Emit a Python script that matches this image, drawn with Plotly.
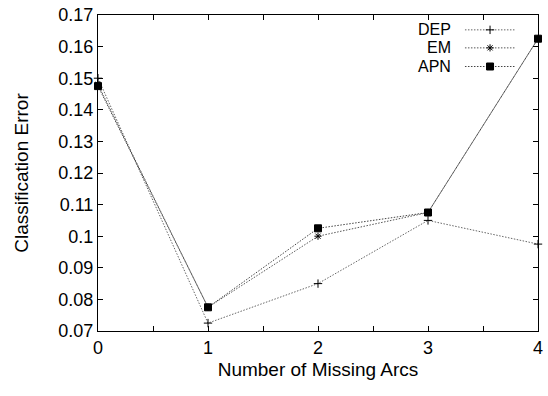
import plotly.graph_objects as go

# Classification error versus number of missing arcs
missing_arcs = [0, 1, 2, 3, 4]
dep = [0.150, 0.0725, 0.085, 0.105, 0.0975]
em = [0.148, 0.0775, 0.100, 0.1075, 0.1625]
apn = [0.1475, 0.0775, 0.1025, 0.1075, 0.1625]

series_names = ["DEP", "EM", "APN"]
series_values = [dep, em, apn]
series_symbols = ["cross-thin", "asterisk-open", "square"]
series_sizes = [6, 6, 7]
line_colors = ["#666666", "#555555", "#444444"]

y_ticks = [0.07, 0.08, 0.09, 0.1, 0.11, 0.12, 0.13, 0.14, 0.15, 0.16, 0.17]
y_tick_text = ["0.07", "0.08", "0.09", "0.1", "0.11", "0.12", "0.13",
               "0.14", "0.15", "0.16", "0.17"]

FONT = "Liberation Sans, Arial, Helvetica, sans-serif"
DOTS = "1.5px,1.5px"

fig = go.Figure()

for name, vals, sym, size, col in zip(series_names, series_values,
                                      series_symbols, series_sizes, line_colors):
    fig.add_trace(go.Scatter(
        x=missing_arcs, y=vals, mode="lines+markers", name=name,
        line=dict(color=col, width=1, dash=DOTS),
        marker=dict(symbol=sym, size=size, color="black",
                    line=dict(color="black", width=1)),
        showlegend=False, cliponaxis=False,
    ))

# Key in the upper right: label on the left, line sample on the right
key_rows = [0.953, 0.896, 0.837]
for name, sym, size, col, yk in zip(series_names, series_symbols,
                                    series_sizes, line_colors, key_rows):
    fig.add_trace(go.Scatter(
        x=[0.834, 0.948], y=[yk, yk], mode="lines", xaxis="x2", yaxis="y2",
        line=dict(color=col, width=1, dash=DOTS), showlegend=False,
        hoverinfo="skip",
    ))
    fig.add_trace(go.Scatter(
        x=[0.891], y=[yk], mode="markers", xaxis="x2", yaxis="y2",
        marker=dict(symbol=sym, size=size, color="black",
                    line=dict(color="black", width=1)),
        showlegend=False, hoverinfo="skip",
    ))
    fig.add_annotation(
        x=0.807, y=yk, xref="x2", yref="y2", text=name, showarrow=False,
        xanchor="right", yanchor="middle",
        font=dict(family=FONT, size=16, color="black"),
    )

axis_common = dict(
    showgrid=False, zeroline=False, showline=True, linecolor="black",
    linewidth=1, mirror="ticks", ticks="inside", ticklen=5,
    tickcolor="black", tickwidth=1, ticklabeloverflow="allow",
    tickfont=dict(family=FONT, size=18, color="black"),
)

fig.update_layout(
    width=548, height=396,
    margin=dict(l=98, r=5, t=9, b=65),
    paper_bgcolor="white", plot_bgcolor="white",
    xaxis=dict(
        range=[0, 4], tickvals=missing_arcs,
        title=dict(text="Number of Missing Arcs", standoff=6,
                   font=dict(family=FONT, size=19, color="black")),
        minor=dict(dtick=0.5, ticks="inside", ticklen=5, tickcolor="black"),
        **axis_common,
    ),
    yaxis=dict(
        range=[0.07, 0.17], tickvals=y_ticks, ticktext=y_tick_text,
        title=dict(text="Classification Error", standoff=24,
                   font=dict(family=FONT, size=19, color="black")),
        **axis_common,
    ),
    xaxis2=dict(range=[0, 1], overlaying="x", visible=False, fixedrange=True),
    yaxis2=dict(range=[0, 1], overlaying="y", visible=False, fixedrange=True),
)

fig.write_html("out.html")
